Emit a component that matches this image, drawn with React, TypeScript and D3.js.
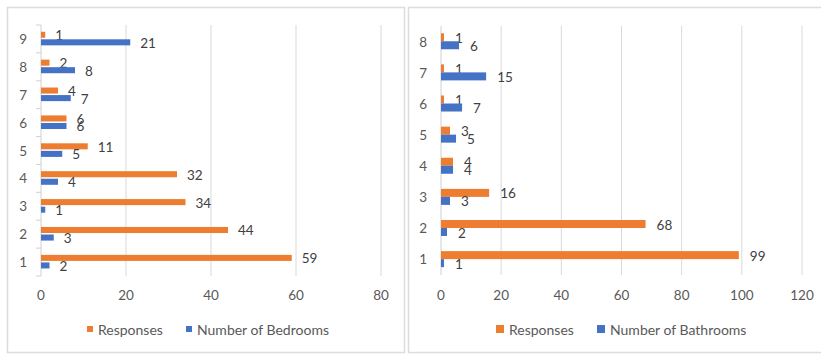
import React from "react";
import * as d3 from "d3";

const bedroomCategories = ["1", "2", "3", "4", "5", "6", "7", "8", "9"];
const bedroomResponses = [59, 44, 34, 32, 11, 6, 4, 2, 1];
const bedroomCounts = [2, 3, 1, 4, 5, 6, 7, 8, 21];
const bedroomTicks = [0, 20, 40, 60, 80];

const bathroomCategories = ["1", "2", "3", "4", "5", "6", "7", "8"];
const bathroomResponses = [99, 68, 16, 4, 3, 1, 1, 1];
const bathroomCounts = [1, 2, 3, 4, 5, 7, 15, 6];
const bathroomTicks = [0, 20, 40, 60, 80, 100, 120];

const ORANGE = "#ED7D31";
const BLUE = "#4472C4";
const FONT = "Lato, 'Open Sans', sans-serif";

type PanelProps = {
  categories: string[];
  responses: number[];
  counts: number[];
  ticks: number[];
  countLabel: string;
  x0: number;
  x1: number;
  yTop: number;
  yBottom: number;
  subRange: [number, number];
  subPad: number;
  labelGap: number;
  showTicks: boolean;
  legendX: number[];
  legendSize: number;
};

function Panel(p: PanelProps) {
  const x = d3
    .scaleLinear()
    .domain([p.ticks[0], p.ticks[p.ticks.length - 1]])
    .range([p.x0, p.x1]);
  const y = d3
    .scaleBand<string>()
    .domain(p.categories)
    .range([p.yBottom, p.yTop])
    .paddingInner(0)
    .paddingOuter(0);
  const series = ["Responses", p.countLabel];
  const sub = d3
    .scaleBand<string>()
    .domain(series)
    .range(p.subRange)
    .paddingInner(p.subPad);
  const values = [p.responses, p.counts];
  const colors = [ORANGE, BLUE];
  const bw = sub.bandwidth();
  const legendY = 329;

  return (
    <g>
      {p.ticks.slice(1).map((t) => (
        <line
          key={"g" + t}
          x1={x(t)}
          x2={x(t)}
          y1={p.yTop}
          y2={p.yBottom}
          stroke="#d9d9d9"
          strokeWidth={1}
        />
      ))}
      <line
        x1={x(0)}
        x2={x(0)}
        y1={p.yTop}
        y2={p.yBottom}
        stroke="#d0d0d0"
        strokeWidth={1}
      />
      {p.showTicks &&
        d3.range(p.categories.length + 1).map((i) => {
          const yy = p.yBottom - i * y.step();
          return (
            <line
              key={"t" + i}
              x1={x(0) - 5}
              x2={x(0)}
              y1={yy}
              y2={yy}
              stroke="#d0d0d0"
              strokeWidth={1}
            />
          );
        })}
      {p.categories.map((c, i) => {
        const cy = (y(c) as number) + y.bandwidth() / 2;
        return (
          <g key={"c" + c}>
            <text
              x={x(0) - 14}
              y={cy}
              textAnchor="end"
              dominantBaseline="central"
              fontSize={13.5}
              fill="#595959"
              fontFamily={FONT}
            >
              {c}
            </text>
            {series.map((s, si) => {
              const v = values[si][i];
              const by = cy + (sub(s) as number);
              return (
                <g key={s}>
                  <rect
                    x={x(0)}
                    y={by}
                    width={x(v) - x(0)}
                    height={bw}
                    fill={colors[si]}
                  />
                  <text
                    x={x(v) + p.labelGap}
                    y={by + bw / 2 + 0.5}
                    dominantBaseline="central"
                    fontSize={13.5}
                    fill="#404040"
                    fontFamily={FONT}
                  >
                    {v}
                  </text>
                </g>
              );
            })}
          </g>
        );
      })}
      {p.ticks.map((t) => (
        <text
          key={"x" + t}
          x={x(t)}
          y={295}
          textAnchor="middle"
          dominantBaseline="central"
          fontSize={13.5}
          fill="#595959"
          fontFamily={FONT}
        >
          {t}
        </text>
      ))}
      {series.map((s, si) => (
        <g key={"l" + s}>
          <rect
            x={p.legendX[si]}
            y={legendY - p.legendSize / 2}
            width={p.legendSize}
            height={p.legendSize}
            fill={colors[si]}
          />
          <text
            x={p.legendX[si] + p.legendSize + 5}
            y={legendY}
            dominantBaseline="central"
            fontSize={14}
            fill="#595959"
            fontFamily={FONT}
          >
            {s}
          </text>
        </g>
      ))}
    </g>
  );
}

export default function App() {
  return (
    <svg
      width={821}
      height={354}
      style={{ position: "absolute", left: 0, top: 0, background: "#fff" }}
    >
      <rect x={7.5} y={7.5} width={397} height={345} fill="#fff" stroke="#dcdcdc" strokeWidth={1.5} />
      <rect x={408.5} y={7.5} width={420} height={345} fill="#fff" stroke="#dcdcdc" strokeWidth={1.5} />
      <Panel
        categories={bedroomCategories}
        responses={bedroomResponses}
        counts={bedroomCounts}
        ticks={bedroomTicks}
        countLabel="Number of Bedrooms"
        x0={41}
        x1={381}
        yTop={25}
        yBottom={276}
        subRange={[-7.2, 6.4]}
        subPad={0.2}
        labelGap={10}
        showTicks={true}
        legendX={[87, 186]}
        legendSize={6}
      />
      <Panel
        categories={bathroomCategories}
        responses={bathroomResponses}
        counts={bathroomCounts}
        ticks={bathroomTicks}
        countLabel="Number of Bathrooms"
        x0={441}
        x1={802}
        yTop={26}
        yBottom={275}
        subRange={[-8.3, 7.7]}
        subPad={0}
        labelGap={11}
        showTicks={false}
        legendX={[496, 597]}
        legendSize={8}
      />
    </svg>
  );
}
